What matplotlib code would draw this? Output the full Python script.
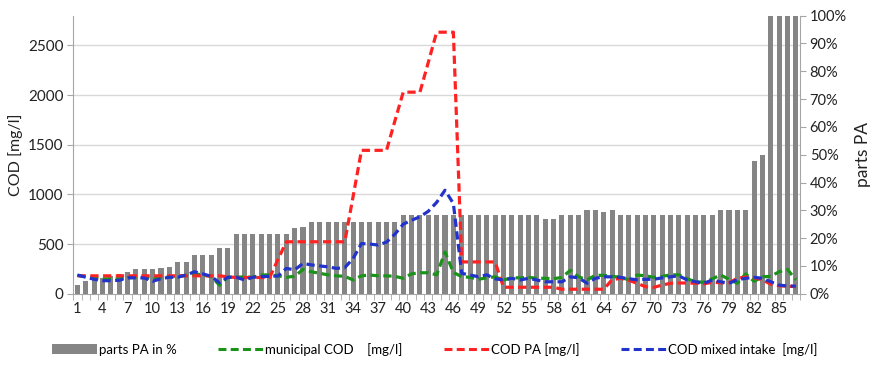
import matplotlib
matplotlib.use("Agg")
import matplotlib.pyplot as plt
import matplotlib.transforms as mtransforms
from matplotlib.lines import Line2D
from matplotlib.patches import Patch
from matplotlib.ticker import PercentFormatter, MultipleLocator, FixedLocator
import numpy as np

plt.rcParams['font.family'] = ['Lato', 'DejaVu Sans']

categories = list(range(1, 88))

parts_pa = [3.1, 4.6, 5.6, 5.8, 6.2, 7.0, 7.9, 8.9, 8.9, 8.9, 9.4, 9.7, 11.5, 11.5, 14.0, 14.0, 14.0,
            16.3, 16.3, 21.5, 21.5, 21.5, 21.5, 21.5, 21.5, 21.5, 23.5, 24.0,
            25.7, 25.7, 25.7, 25.7, 25.7, 25.7, 25.7, 25.7, 25.7, 25.7, 25.7,
            28.3, 28.3, 28.3, 28.3, 28.3, 28.3, 28.3, 28.3, 28.3, 28.3, 28.3, 28.3, 28.3, 28.3, 28.3, 28.3, 28.3,
            26.8, 26.8, 28.3, 28.3, 28.3, 30.0, 30.0, 29.5, 30.0,
            28.3, 28.3, 28.3, 28.3, 28.3, 28.3, 28.3, 28.3, 28.3, 28.3, 28.3, 28.3,
            30.0, 30.0, 30.0, 30.0, 47.7, 50.0, 100.0, 100.0, 100.0, 100.0]

cod_municipal = [185, 170, 160, 150, 150, 150, 160, 165, 165, 150, 160, 170, 175, 185, 200, 190, 175,
                 85, 166, 166, 170, 166, 188, 190, 180, 166, 175, 245, 221, 205, 190, 180, 175, 138,
                 180, 188, 180, 180, 175, 155, 200, 211, 211, 190, 420, 215, 171, 165, 145, 160, 170,
                 138, 160, 160, 165, 155, 155, 150, 165, 235, 170, 140, 185, 185, 175, 165, 140, 188,
                 180, 165, 175, 190, 190, 150, 120, 115, 150, 188, 145, 105, 200, 125, 170, 175, 221,
                 245, 140]

cod_pa = [180, 180, 180, 180, 180, 180, 180, 180, 180, 180, 180, 180, 180, 180, 180, 180, 180,
          180, 170, 163, 163, 163, 163, 163, 344, 523, 523, 523, 523, 523, 523, 523, 523, 980,
          1444, 1444, 1444, 1444, 1740, 2030, 2030, 2030, 2330, 2634, 2634, 2634, 320, 320, 320,
          320, 320, 65, 65, 65, 65, 65, 65, 65, 45, 45, 45, 45, 45, 45, 140, 155, 135, 105, 70,
          64, 87, 105, 108, 108, 105, 100, 115, 110, 110, 155, 168, 160, 140, 95, 80, 75, 72]

cod_mixed = [188, 166, 145, 131, 131, 135, 160, 160, 158, 126, 150, 166, 166, 188, 221, 200, 175,
             110, 166, 166, 138, 166, 172, 175, 178, 255, 240, 305, 290, 280, 270, 255, 262, 355,
             505, 500, 490, 520, 600, 700, 740, 775, 830, 920, 1042, 909, 205, 188, 171, 190, 150,
             138, 155, 138, 155, 138, 120, 120, 120, 170, 160, 105, 155, 170, 170, 165, 150, 140,
             145, 145, 160, 170, 180, 138, 120, 105, 138, 120, 105, 140, 155, 165, 155, 120, 87,
             77, 77]

cod_ticks = [0, 500, 1000, 1500, 2000, 2500]
x_tick_labels = [str(c) for c in categories[::3]]

W, H = 880, 369
fig = plt.figure(figsize=(W / 100, H / 100), dpi=100)
left, right, bottom, top = 73.3, 800, 293.7, 15.7
ax = fig.add_axes([left / W, (H - bottom) / H, (right - left) / W, (bottom - top) / H])
axb = ax.twinx()
ax.set_zorder(axb.get_zorder() + 1)
ax.patch.set_visible(False)

x = np.array(categories)
axb.bar(x, np.array(parts_pa) / 100.0, width=0.6, color='#858585', zorder=2)
axb.set_ylim(0, 1.0)
axb.yaxis.set_major_locator(MultipleLocator(0.1))
axb.yaxis.set_major_formatter(PercentFormatter(1.0, decimals=0))

# gridlines behind bars, at COD tick values
blend = mtransforms.blended_transform_factory(axb.transAxes, ax.transData)
for t in cod_ticks[1:]:
    axb.add_line(Line2D([0, 1], [t, t], transform=blend, color='#d9d9d9', lw=1.0, zorder=1))

dash = (0, (2.6, 1.4))
ax.plot(x, cod_municipal, color='#1b931b', lw=2.3, linestyle=dash, zorder=3)
ax.plot(x, cod_pa, color='#ff2222', lw=2.3, linestyle=dash, zorder=4)
ax.plot(x, cod_mixed, color='#2233cc', lw=2.3, linestyle=dash, zorder=5)

ax.set_ylim(0, 2800)
ax.set_yticks(cod_ticks)
ax.set_xlim(0.5, 87.5)
axb.set_xlim(0.5, 87.5)
ax.set_xticks(x[::3])
ax.set_xticklabels(x_tick_labels)
ax.xaxis.set_minor_locator(FixedLocator(np.arange(0.5, 88, 1.0)))

spine_c = '#a6a6a6'
for a in (ax, axb):
    a.spines['top'].set_visible(False)
    for s in ('left', 'right', 'bottom'):
        a.spines[s].set_color(spine_c)
ax.spines['right'].set_visible(False)
axb.spines['left'].set_visible(False)
axb.spines['bottom'].set_visible(False)

ax.tick_params(axis='x', which='major', length=0, labelsize=10.5, colors='#222222', pad=6)
ax.tick_params(axis='x', which='minor', length=4, color=spine_c)
ax.tick_params(axis='y', length=4, color=spine_c, labelsize=11, labelcolor='#222222', pad=3)
axb.tick_params(axis='y', length=4, color=spine_c, labelsize=10.5, labelcolor='#222222', pad=3)

ax.set_ylabel('COD [mg/l]', fontsize=11.5, color='#222222', labelpad=4)
axb.set_ylabel('parts PA', fontsize=12.5, color='#222222', labelpad=6)

handles = [Patch(facecolor='#858585', edgecolor='none'),
           Line2D([], [], color='#1b931b', lw=2.2, linestyle=dash),
           Line2D([], [], color='#ff2222', lw=2.2, linestyle=dash),
           Line2D([], [], color='#2233cc', lw=2.2, linestyle=dash)]
labels = ['parts PA in %', 'municipal COD    [mg/l]', 'COD PA [mg/l]', 'COD mixed intake  [mg/l]']
fig.legend(handles, labels, loc='center', bbox_to_anchor=(0.494, 0.054), ncol=4,
           frameon=False, fontsize=9.5, handlelength=3.4, handletextpad=0.2, columnspacing=3.1)

fig.savefig('out.png', dpi=100)
